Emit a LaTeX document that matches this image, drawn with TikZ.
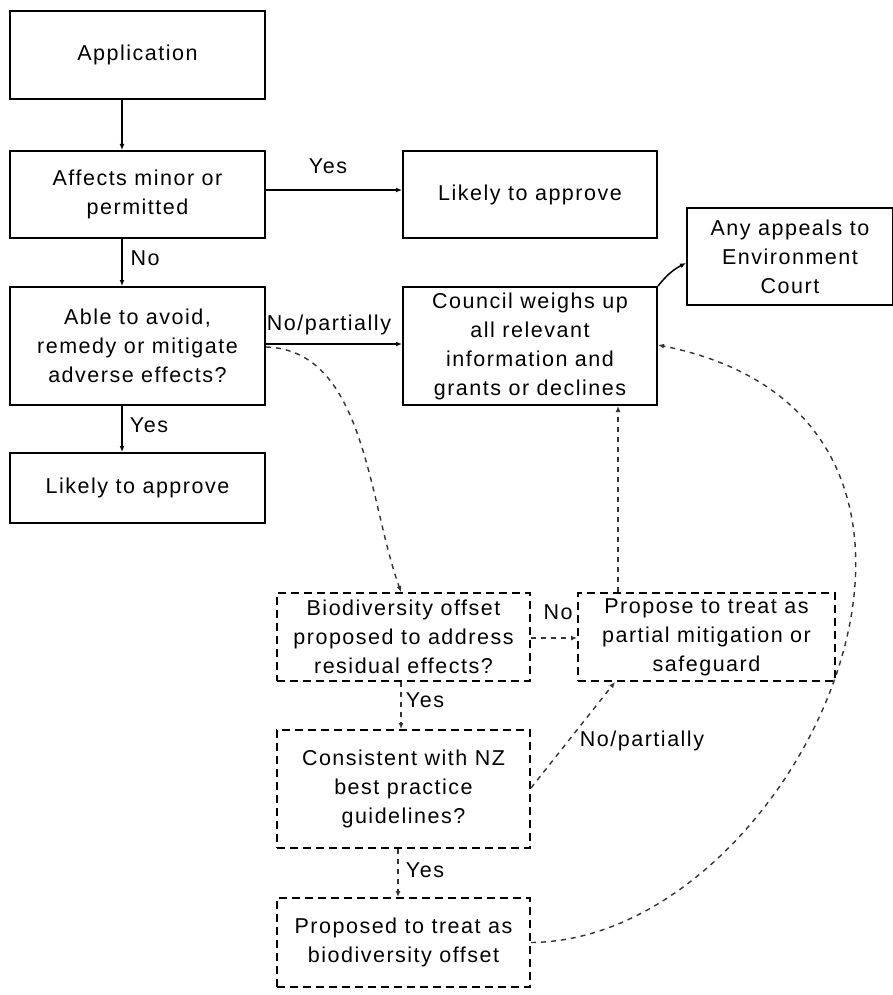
\documentclass[tikz,border=0pt]{standalone}
\usepackage{fontspec}
\setmainfont{Liberation Sans}[LetterSpace=7]
\usetikzlibrary{arrows.meta}
\begin{document}
\begin{tikzpicture}[x=1pt,y=-1pt,
  txt/.style={font=\fontsize{21.5}{29}\selectfont},
  box/.style={txt, draw, line width=2pt, align=center, inner sep=0pt},
  dbox/.style={box, dash pattern=on 8pt off 5pt},
  arr/.style={-{Latex[length=6pt,width=5pt]}, line width=1.5pt},
  darr/.style={-{Latex[length=6pt,width=5pt]}, line width=1.4pt, dash pattern=on 5pt off 5pt, draw=black!80},
  lab/.style={txt, inner sep=0pt}]
\useasboundingbox (0,0) rectangle (893,995);
\fill[white] (0,0) rectangle (893,995);

\node[box, minimum width=255pt, minimum height=88pt] (app) at (137.5,55) {Application};
\node[box, minimum width=255pt, minimum height=87pt] (aff) at (137.5,194.5) {Affects minor or\\permitted};
\node[box, minimum width=254pt, minimum height=87pt] (lik1) at (530,194.5) {Likely to approve};
\node[box, minimum width=206pt, minimum height=97pt] (appeal) at (790,256.5) {Any appeals to\\Environment\\Court};
\node[box, minimum width=255pt, minimum height=118pt] (able) at (137.5,346) {Able to avoid,\\remedy or mitigate\\adverse effects?};
\node[box, minimum width=254pt, minimum height=118pt] (coun) at (530,346) {Council weighs up\\all relevant\\information and\\grants or declines};
\node[box, minimum width=255pt, minimum height=70pt] (lik2) at (137.5,488) {Likely to approve};
\node[dbox, minimum width=253pt, minimum height=88pt] (bio) at (403.5,637) {Biodiversity offset\\proposed to address\\residual effects?};
\node[dbox, minimum width=257pt, minimum height=88pt] (prop) at (706.5,637) {Propose to treat as\\partial mitigation or\\safeguard};
\node[dbox, minimum width=253pt, minimum height=118pt] (cons) at (403.5,789) {Consistent with NZ\\best practice\\guidelines?};
\node[dbox, minimum width=253pt, minimum height=89pt] (offs) at (403.5,942.5) {Proposed to treat as\\biodiversity offset};

% solid connectors
\draw[arr] ([xshift=-15.5pt]app.south) -- ([xshift=-15.5pt]aff.north);
\draw[arr] ([yshift=4.5pt]aff.east) -- ([yshift=4.5pt]lik1.west);
\draw[arr] ([xshift=-15.5pt]aff.south) -- ([xshift=-15.5pt]able.north);
\draw[arr] ([yshift=2pt]able.east) -- ([yshift=2pt]coun.west);
\draw[arr] ([xshift=-15.5pt]able.south) -- ([xshift=-15.5pt]lik2.north);
\draw[arr] (coun.north east) to[bend left=12] ([yshift=-6.5pt]appeal.west);

% dashed connectors
\draw[darr] ([yshift=-1pt]able.east) .. controls (365,350) and (368,500) .. ([xshift=-2.5pt]bio.north);
\draw[darr] ([xshift=-2.5pt]bio.south) -- ([xshift=-2.5pt]cons.north);
\draw[darr] ([yshift=-1pt]bio.east) -- ([yshift=-1pt]prop.west);
\draw[darr] ([yshift=1pt]cons.east) -- ([xshift=-91.5pt]prop.south);
\draw[darr] ([xshift=-5.5pt]cons.south) -- ([xshift=-5.5pt]offs.north);
\draw[darr] ([xshift=-88.5pt]prop.north) -- ([xshift=88pt]coun.south);
\draw[darr] (offs.east) .. controls (800,940) and (1035,420) .. ([yshift=1pt]coun.east);

% labels
\node[lab] (l1) at (328,166) {Yes};
\node[lab] (l2) at (145,258) {No};
\node[lab] (l3) at (329,325) {No/partially};
\node[lab] (l4) at (149,425) {Yes};
\node[lab] (l5) at (558,612) {No};
\node[lab] (l6) at (425,700) {Yes};
\node[lab] (l7) at (642,741) {No/partially};
\node[lab] (l8) at (425,870) {Yes};
\end{tikzpicture}
\end{document}
